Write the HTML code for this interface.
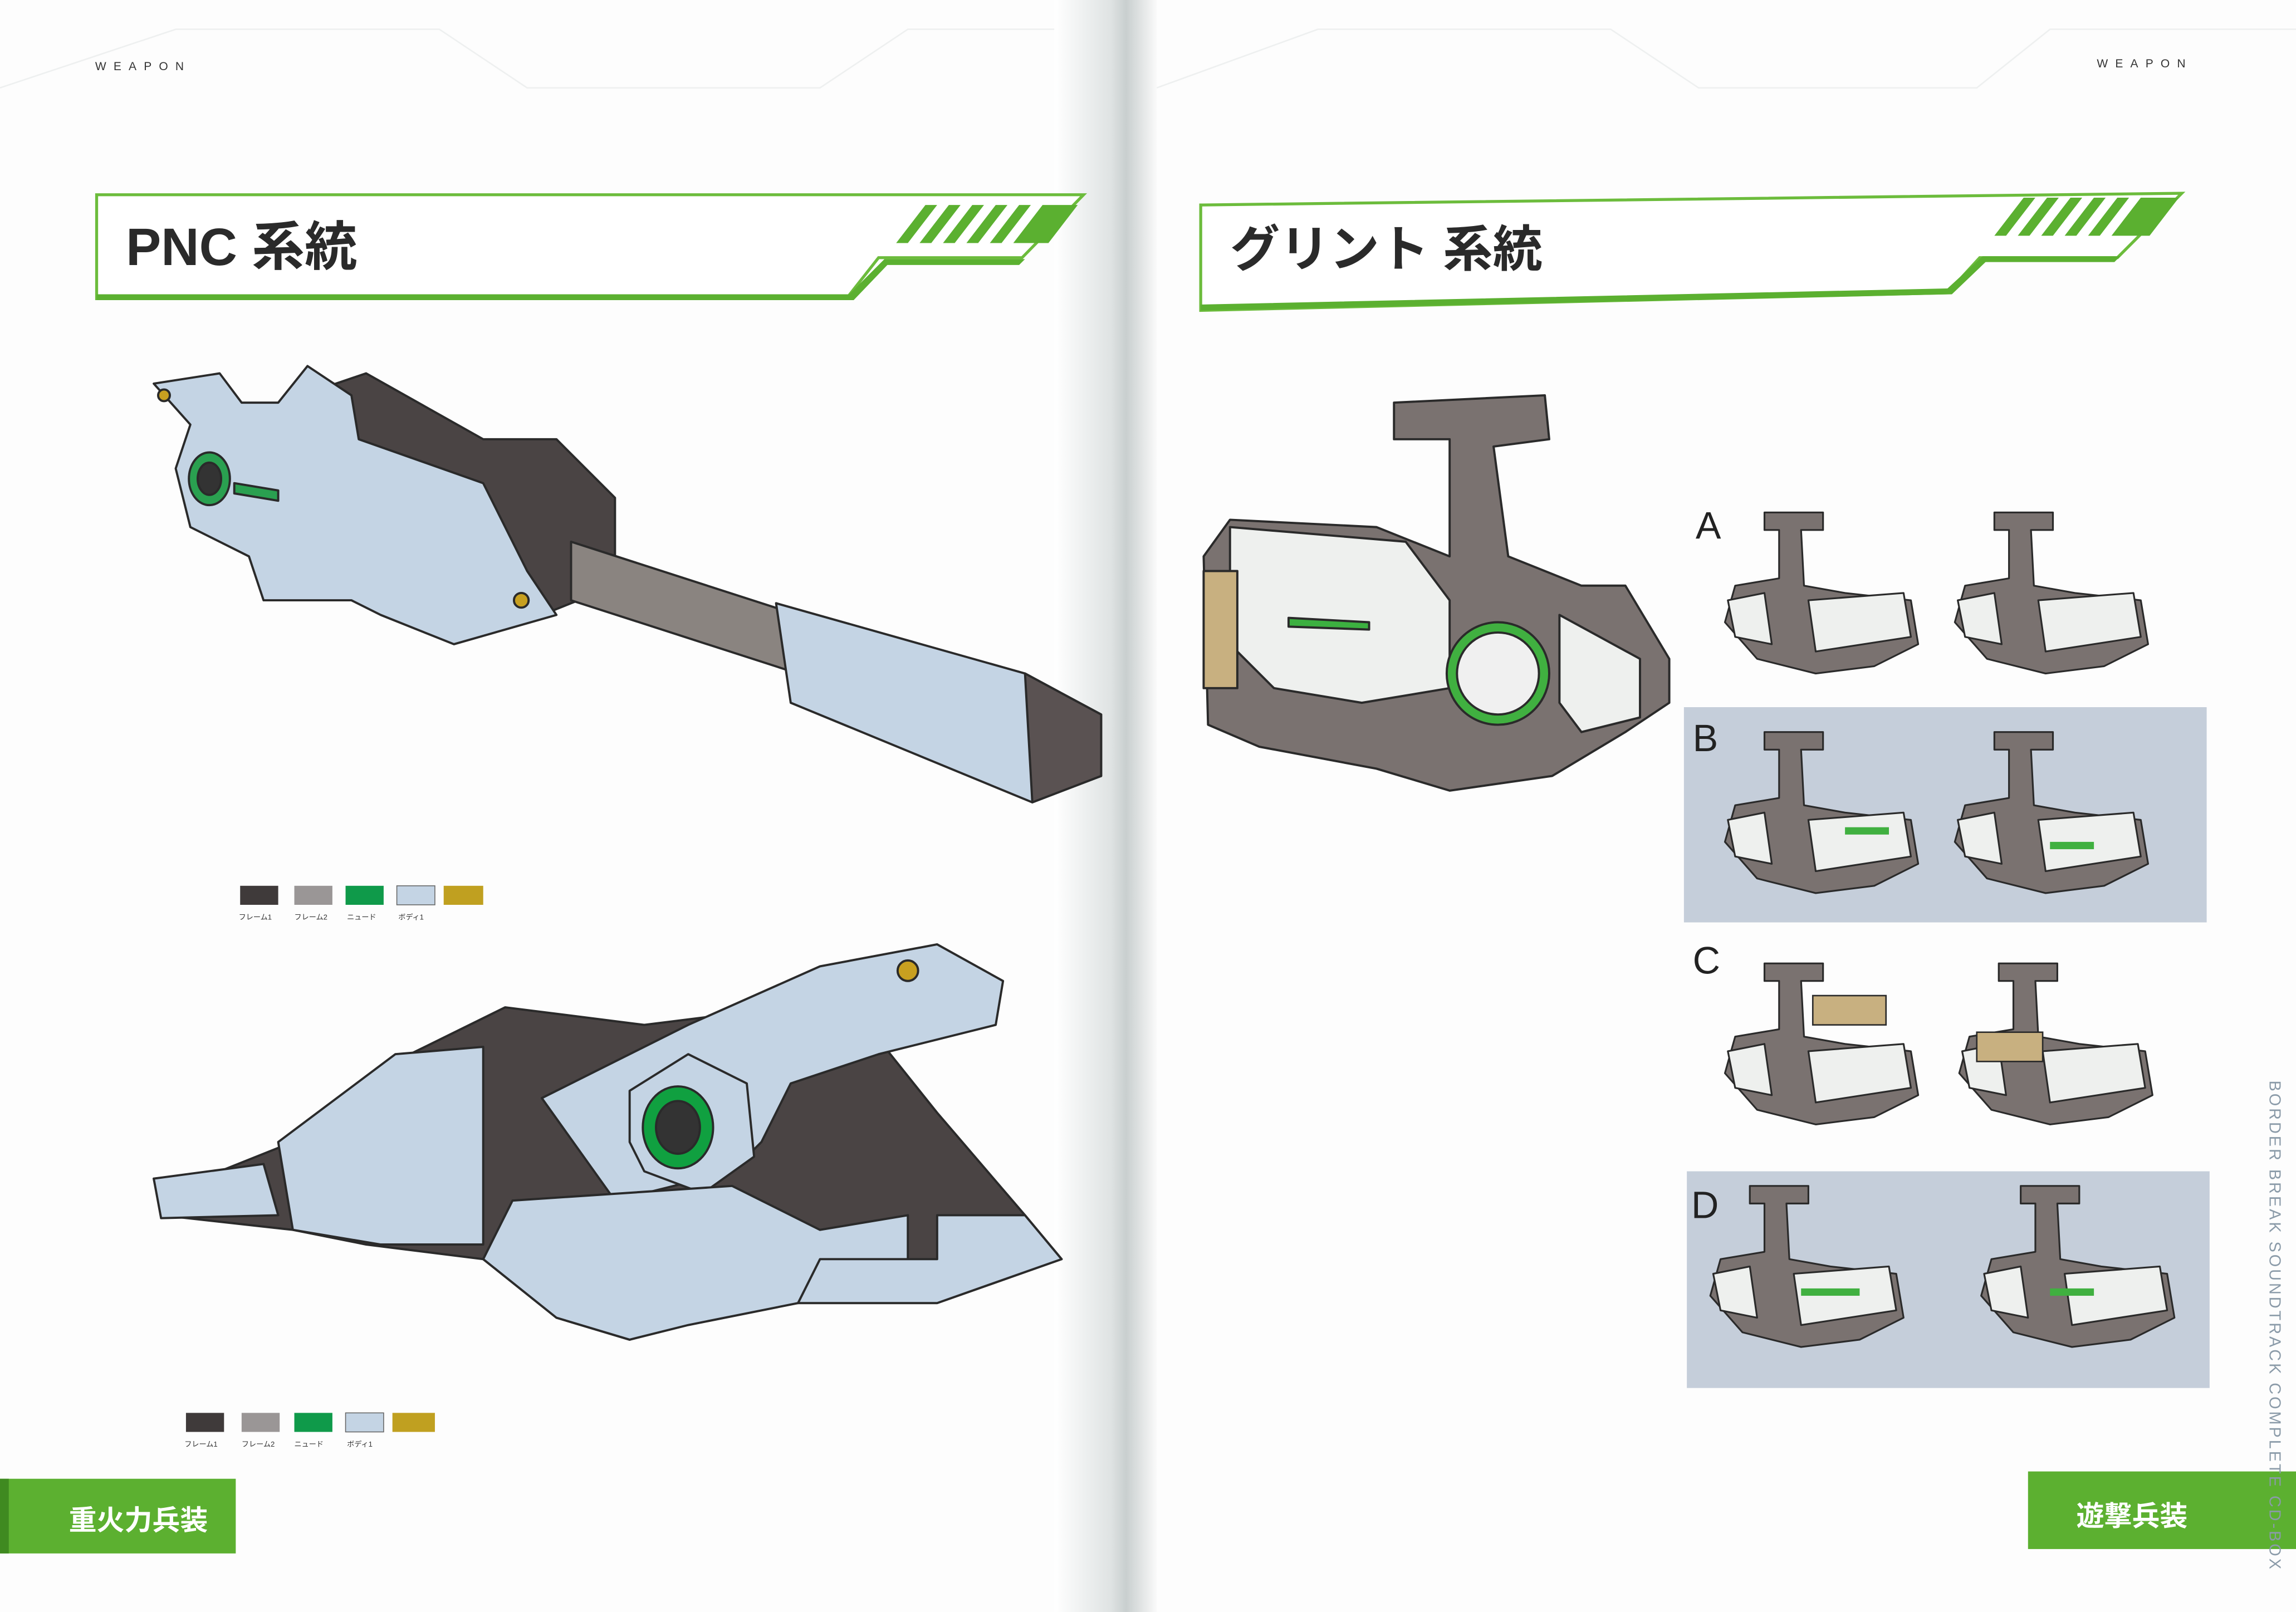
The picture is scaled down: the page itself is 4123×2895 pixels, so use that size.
<!DOCTYPE html>
<html><head><meta charset="utf-8"><style>
html,body{margin:0;padding:0;background:#fff;}
svg{display:block;}
text{font-family:"Liberation Sans","Noto Sans CJK JP",sans-serif;}
</style></head><body>
<svg width="4123" height="2895" viewBox="0 0 1568 1101" preserveAspectRatio="none" xmlns="http://www.w3.org/2000/svg">
<defs>
<linearGradient id="spine" x1="0" x2="1">
<stop offset="0" stop-color="#fff"/><stop offset="0.55" stop-color="#dfe3e3"/><stop offset="0.7" stop-color="#c9cfcf"/><stop offset="1" stop-color="#fafafa"/>
</linearGradient>
<g id="sg">
<path d="M1205 350 L1245 350 L1245 362 L1230 362 L1232 400 L1260 405 L1305 410 L1310 440 L1280 455 L1240 460 L1200 450 L1178 425 L1185 400 L1215 395 L1215 362 L1205 362 Z" fill="#7a7270"/>
<path d="M1235 410 L1300 405 L1305 435 L1240 445 Z" fill="#eef0ee"/>
<path d="M1180 410 L1205 405 L1210 440 L1185 435Z" fill="#eef0ee"/>
</g>
</defs>
<rect width="1568" height="1101" fill="#fdfdfd"/>
<rect x="720" y="0" width="70" height="1101" fill="url(#spine)"/>
<g stroke="#eef0f0" stroke-width="1" fill="none">
<path d="M0 60 L120 20 L300 20 L360 60 L560 60 L620 20 L720 20"/>
<path d="M790 60 L900 20 L1100 20 L1160 60 L1350 60 L1400 20 L1568 20"/>
</g>
<text x="65" y="48" font-size="8" letter-spacing="5" fill="#333">WEAPON</text>
<text x="1432" y="46" font-size="8" letter-spacing="5" fill="#333">WEAPON</text>

<path d="M66 133 L740 133 L698 176 L600 176 L578 204 L66 204 Z" fill="#fff" stroke="#6cbc3c" stroke-width="2"/>
<path d="M66 201 L580 201 L604 177 L700 177 L696 181 L606 181 L583 205 L66 205 Z" fill="#5bb030"/>
<g fill="#5bb030">
<path d="M612 166 L632 140 L640 140 L620 166Z"/><path d="M628 166 L648 140 L656 140 L636 166Z"/>
<path d="M644 166 L664 140 L672 140 L652 166Z"/><path d="M660 166 L680 140 L688 140 L668 166Z"/>
<path d="M676 166 L696 140 L704 140 L684 166Z"/><path d="M692 166 L712 140 L736 140 L716 166Z"/>
</g>
<text x="86" y="181" font-size="36" font-weight="bold" fill="#2a2a2a">PNC 系統</text>

<path d="M820 140 L1490 132 L1446 176 L1352 176 L1330 200 L820 212 Z" fill="#fff" stroke="#6cbc3c" stroke-width="2"/>
<path d="M820 208 L1330 197 L1354 175 L1448 175 L1444 179 L1356 179 L1333 201 L820 212 Z" fill="#5bb030"/>
<g fill="#5bb030">
<path d="M1362 161 L1382 135 L1390 135 L1370 161Z"/><path d="M1378 161 L1398 135 L1406 135 L1386 161Z"/>
<path d="M1394 161 L1414 135 L1422 135 L1402 161Z"/><path d="M1410 161 L1430 135 L1438 135 L1418 161Z"/>
<path d="M1426 161 L1446 135 L1454 135 L1434 161Z"/><path d="M1442 161 L1462 135 L1488 135 L1468 161Z"/>
</g>
<text x="840" y="182" font-size="34" font-weight="bold" fill="#2a2a2a">グリント 系統</text>

<!-- gun 1 -->
<g stroke="#2a2a2a" stroke-width="1.5" stroke-linejoin="round">
<path d="M200 272 L250 255 L330 300 L380 300 L420 340 L420 400 L370 420 L300 420 L250 380 Z" fill="#4a4444"/>
<path d="M390 370 L545 420 L545 460 L390 410 Z" fill="#8a8480"/>
<path d="M530 412 L700 460 L752 488 L752 530 L705 548 L540 480 Z" fill="#c4d4e4"/>
<path d="M700 460 L752 488 L752 530 L705 548 Z" fill="#5a5252"/>
<path d="M105 262 L150 255 L165 275 L190 275 L210 250 L240 270 L245 300 L330 330 L360 390 L380 420 L310 440 L260 420 L240 410 L180 410 L170 380 L130 360 L120 320 L130 290 Z" fill="#c4d4e4"/>
<ellipse cx="143" cy="327" rx="14" ry="18" fill="#2aa050"/>
<ellipse cx="143" cy="327" rx="8" ry="11" fill="#333"/>
<path d="M160 330 L190 335 L190 342 L160 337Z" fill="#2aa050"/>
<circle cx="356" cy="410" r="5" fill="#c8a020"/>
<circle cx="112" cy="270" r="4" fill="#c8a020"/>
</g>

<rect x="164" y="605" width="26" height="13" fill="#3f3a3a"/>
<rect x="201" y="605" width="26" height="13" fill="#9a9696"/>
<rect x="236" y="605" width="26" height="13" fill="#0f9a4a"/>
<rect x="271" y="605" width="26" height="13" fill="#c4d4e4" stroke="#666" stroke-width="0.6"/>
<rect x="303" y="605" width="27" height="13" fill="#c0a020"/>
<g font-size="5" fill="#333"><text x="163" y="628">フレーム1</text><text x="201" y="628">フレーム2</text><text x="237" y="628">ニュード</text><text x="272" y="628">ボディ1</text></g>

<!-- gun 2 -->
<g stroke="#2a2a2a" stroke-width="1.5" stroke-linejoin="round">
<path d="M105 805 L150 800 L200 780 L230 760 L280 720 L345 688 L440 700 L520 690 L600 710 L640 760 L700 830 L725 860 L640 890 L545 890 L470 900 L430 915 L380 900 L330 860 L250 850 L200 840 L110 830 Z" fill="#4a4444"/>
<path d="M105 805 L180 795 L190 830 L110 832 Z" fill="#c4d4e4"/>
<path d="M190 780 L270 720 L330 715 L330 850 L260 850 L200 840 Z" fill="#c4d4e4"/>
<path d="M370 750 L470 700 L560 660 L640 645 L685 670 L680 700 L600 720 L540 740 L520 780 L500 800 L420 820 Z" fill="#c4d4e4"/>
<path d="M430 745 L470 720 L510 740 L515 790 L480 815 L440 800 L430 780 Z" fill="#c4d4e4"/>
<ellipse cx="463" cy="770" rx="24" ry="28" fill="#10a040"/>
<ellipse cx="463" cy="770" rx="15" ry="18" fill="#333"/>
<path d="M330 860 L350 820 L500 810 L560 840 L620 830 L620 870 L545 890 L470 905 L430 915 L380 900 Z" fill="#c4d4e4"/>
<path d="M640 830 L700 830 L725 860 L640 890 L545 890 L560 860 L640 860 Z" fill="#c4d4e4"/>
<circle cx="620" cy="663" r="7" fill="#c8a020"/>
</g>

<rect x="127" y="965" width="26" height="13" fill="#3f3a3a"/>
<rect x="165" y="965" width="26" height="13" fill="#9a9696"/>
<rect x="201" y="965" width="26" height="13" fill="#0f9a4a"/>
<rect x="236" y="965" width="26" height="13" fill="#c4d4e4" stroke="#666" stroke-width="0.6"/>
<rect x="268" y="965" width="29" height="13" fill="#c0a020"/>
<g font-size="5" fill="#333"><text x="126" y="988">フレーム1</text><text x="165" y="988">フレーム2</text><text x="201" y="988">ニュード</text><text x="237" y="988">ボディ1</text></g>

<!-- grint main -->
<g stroke="#2a2a2a" stroke-width="1.5" stroke-linejoin="round">
<path d="M952 275 L1055 270 L1058 300 L1020 305 L1030 380 L1080 400 L1110 400 L1140 450 L1140 480 L1110 500 L1060 530 L990 540 L940 525 L860 510 L825 495 L822 380 L840 355 L940 360 L990 380 L990 300 L952 300 Z" fill="#7a7270"/>
<path d="M840 360 L960 370 L990 410 L990 470 L930 480 L870 470 L840 440 Z" fill="#eef0ee"/>
<path d="M1065 420 L1120 450 L1120 490 L1080 500 L1065 480Z" fill="#eef0ee"/>
<circle cx="1023" cy="460" r="35" fill="#40b040"/>
<circle cx="1023" cy="460" r="28" fill="#f0f0f0"/>
<path d="M822 390 L845 390 L845 470 L822 470 Z" fill="#c8b080"/>
<path d="M880 422 L935 425 L935 430 L880 428Z" fill="#3cb040"/>
</g>

<rect x="1150" y="483" width="357" height="147" fill="#c5ceda"/>
<rect x="1152" y="800" width="357" height="148" fill="#c5ceda"/>
<g font-size="26" fill="#222"><text x="1158" y="368">A</text><text x="1156" y="513">B</text><text x="1156" y="665">C</text><text x="1155" y="832">D</text></g>

<g stroke="#2a2a2a" stroke-width="1.2" stroke-linejoin="round">
<use href="#sg"/>
<use href="#sg" transform="translate(157 0)"/>
<use href="#sg" transform="translate(0 150)"/>
<use href="#sg" transform="translate(157 150)"/>
<use href="#sg" transform="translate(0 308)"/>
<use href="#sg" transform="translate(160 308)"/>
<use href="#sg" transform="translate(-10 460)"/>
<use href="#sg" transform="translate(175 460)"/>
</g>
<g fill="#c8b080" stroke="#2a2a2a" stroke-width="1"><rect x="1238" y="680" width="50" height="20"/><rect x="1350" y="705" width="45" height="20"/></g>
<g fill="#40b040"><rect x="1260" y="565" width="30" height="5"/><rect x="1400" y="575" width="30" height="5"/><rect x="1230" y="880" width="40" height="5"/><rect x="1400" y="880" width="30" height="5"/></g>

<rect x="0" y="1010" width="161" height="51" fill="#5cb030"/>
<rect x="0" y="1010" width="6" height="51" fill="#3f8a20"/>
<text x="47" y="1045" font-size="19" font-weight="bold" fill="#fff">重火力兵装</text>
<rect x="1385" y="1005" width="183" height="53" fill="#5cb030"/>
<text x="1418" y="1042" font-size="19" font-weight="bold" fill="#fff">遊撃兵装</text>

<text x="0" y="0" font-size="11" fill="#8a9aa8" letter-spacing="1.5" transform="translate(1550 738) rotate(90)">BORDER BREAK SOUNDTRACK COMPLETE CD-BOX</text>
</svg>
</body></html>
